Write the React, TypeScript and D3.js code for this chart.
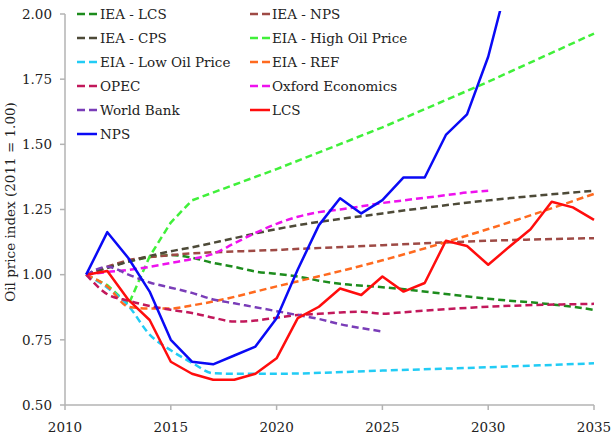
import React from "react";
import * as d3 from "d3";

type Series = { name: string; years: number[]; values: number[]; color: string; dashed: boolean; smooth: boolean };

const ieaLcsYears = [2011, 2013, 2015, 2016, 2017, 2018, 2019, 2020, 2021, 2022, 2023, 2025, 2030, 2031, 2032, 2033, 2034, 2035];
const ieaLcsValues = [1.0, 1.05, 1.075, 1.065, 1.045, 1.03, 1.012, 1.003, 0.993, 0.977, 0.965, 0.952, 0.908, 0.9, 0.894, 0.886, 0.877, 0.865];

const ieaNpsYears = [2011, 2013, 2015, 2020, 2025, 2030, 2035];
const ieaNpsValues = [1.0, 1.055, 1.075, 1.095, 1.113, 1.13, 1.14];

const ieaCpsYears = [2011, 2013, 2015, 2016, 2018, 2020, 2025, 2030, 2035];
const ieaCpsValues = [1.0, 1.05, 1.09, 1.105, 1.14, 1.175, 1.235, 1.285, 1.322];

const eiaHighYears = [2011, 2012, 2013, 2014, 2015, 2016, 2020, 2025, 2030, 2035];
const eiaHighValues = [1.0, 0.96, 0.885, 1.07, 1.2, 1.285, 1.405, 1.565, 1.74, 1.925];

const eiaLowYears = [2011, 2012, 2013, 2014, 2015, 2016, 2017, 2018, 2020, 2025, 2030, 2035];
const eiaLowValues = [1.0, 0.95, 0.88, 0.77, 0.71, 0.662, 0.622, 0.62, 0.62, 0.632, 0.645, 0.66];

const eiaRefYears = [2011, 2012, 2013, 2014, 2015, 2016, 2017, 2020, 2025, 2030, 2035];
const eiaRefValues = [1.0, 0.955, 0.877, 0.87, 0.87, 0.882, 0.897, 0.955, 1.055, 1.175, 1.31];

const opecYears = [2011, 2012, 2013, 2014, 2015, 2016, 2017, 2018, 2019, 2020, 2021, 2022, 2023, 2024, 2025, 2026, 2030, 2035];
const opecValues = [1.0, 0.925, 0.9, 0.88, 0.865, 0.853, 0.835, 0.82, 0.824, 0.835, 0.845, 0.85, 0.855, 0.858, 0.85, 0.856, 0.877, 0.888];

const oxfordYears = [2011, 2012, 2013, 2014, 2015, 2016, 2017, 2018, 2019, 2020, 2021, 2022, 2023, 2024, 2025, 2026, 2027, 2028, 2029, 2030];
const oxfordValues = [1.0, 1.01, 1.018, 1.03, 1.045, 1.06, 1.08, 1.12, 1.16, 1.195, 1.222, 1.24, 1.25, 1.262, 1.275, 1.285, 1.295, 1.305, 1.315, 1.322];

const worldBankYears = [2011, 2012, 2013, 2014, 2015, 2016, 2017, 2018, 2019, 2020, 2021, 2022, 2023, 2024, 2025];
const worldBankValues = [1.0, 1.03, 1.0, 0.97, 0.95, 0.93, 0.905, 0.89, 0.875, 0.86, 0.845, 0.83, 0.81, 0.795, 0.782];

const lcsYears = [2011, 2012, 2013, 2014, 2015, 2016, 2017, 2018, 2019, 2020, 2021, 2022, 2023, 2024, 2025, 2026, 2027, 2028, 2029, 2030, 2031, 2032, 2033, 2034, 2035];
const lcsValues = [1.0, 1.014, 0.903, 0.826, 0.666, 0.62, 0.597, 0.597, 0.62, 0.679, 0.833, 0.877, 0.947, 0.922, 0.993, 0.935, 0.968, 1.13, 1.11, 1.038, 1.107, 1.174, 1.28, 1.258, 1.21];

const npsYears = [2011, 2012, 2013, 2014, 2015, 2016, 2017, 2018, 2019, 2020, 2021, 2022, 2023, 2024, 2025, 2026, 2027, 2028, 2029, 2030, 2031];
const npsValues = [1.0, 1.163, 1.063, 0.935, 0.75, 0.666, 0.656, 0.69, 0.724, 0.833, 1.02, 1.19, 1.293, 1.235, 1.286, 1.373, 1.373, 1.536, 1.615, 1.836, 2.15];

const yTicks = [0.5, 0.75, 1.0, 1.25, 1.5, 1.75, 2.0];
const xTicks = [2010, 2015, 2020, 2025, 2030, 2035];

const series: Series[] = [
  { name: "IEA - LCS", years: ieaLcsYears, values: ieaLcsValues, color: "#1d8c1d", dashed: true, smooth: true },
  { name: "IEA - NPS", years: ieaNpsYears, values: ieaNpsValues, color: "#9e4a45", dashed: true, smooth: true },
  { name: "IEA - CPS", years: ieaCpsYears, values: ieaCpsValues, color: "#4d4a38", dashed: true, smooth: true },
  { name: "EIA - High Oil Price", years: eiaHighYears, values: eiaHighValues, color: "#40f03a", dashed: true, smooth: false },
  { name: "EIA - Low Oil Price", years: eiaLowYears, values: eiaLowValues, color: "#22ccf5", dashed: true, smooth: true },
  { name: "EIA - REF", years: eiaRefYears, values: eiaRefValues, color: "#ff6a1f", dashed: true, smooth: true },
  { name: "OPEC", years: opecYears, values: opecValues, color: "#c2185b", dashed: true, smooth: true },
  { name: "Oxford Economics", years: oxfordYears, values: oxfordValues, color: "#ee11ee", dashed: true, smooth: true },
  { name: "World Bank", years: worldBankYears, values: worldBankValues, color: "#7a3db8", dashed: true, smooth: true },
  { name: "LCS", years: lcsYears, values: lcsValues, color: "#ff0d0d", dashed: false, smooth: false },
  { name: "NPS", years: npsYears, values: npsValues, color: "#0a0af5", dashed: false, smooth: false },
];

const W = 612;
const H = 439;
const left = 65, right = 594, top = 14, bottom = 405;
const FONT = "'DejaVu Serif', serif";
const TEXT = "#222";
const AXIS = "#b3b3b3";

export default function App() {
  const x = d3.scaleLinear().domain([2010, 2035]).range([left, right]);
  const y = d3.scaleLinear().domain([0.5, 2.0]).range([bottom, top]);

  const makePath = (s: Series) => {
    const pts = s.years.map((yr, i) => [yr, s.values[i]] as [number, number]);
    const gen = d3
      .line<[number, number]>()
      .x((d) => x(d[0]))
      .y((d) => y(d[1]))
      .curve(s.smooth ? d3.curveMonotoneX : d3.curveLinear);
    return gen(pts) || "";
  };

  const col1 = ["IEA - LCS", "IEA - CPS", "EIA - Low Oil Price", "OPEC", "World Bank", "NPS"];
  const col2 = ["IEA - NPS", "EIA - High Oil Price", "EIA - REF", "Oxford Economics", "LCS"];
  const rowY = (i: number) => 14 + i * 24;
  const byName = (n: string) => series.find((s) => s.name === n)!;

  const legendItem = (n: string, i: number, lx: number, tx: number) => {
    const s = byName(n);
    return (
      <g key={n}>
        <line
          x1={lx}
          x2={lx + 20}
          y1={rowY(i)}
          y2={rowY(i)}
          stroke={s.color}
          strokeWidth={2.5}
          strokeDasharray={s.dashed ? "8,4" : undefined}
        />
        <text x={tx} y={rowY(i)} dy="0.35em" fontFamily={FONT} fontSize={13.5} fill={TEXT}>
          {n}
        </text>
      </g>
    );
  };

  return (
    <svg width={W} height={H} style={{ position: "absolute", left: 0, top: 0, background: "#fff" }}>
      <defs>
        <clipPath id="plotclip">
          <rect x={left} y={top - 3} width={right - left + 10} height={bottom - top + 3} />
        </clipPath>
      </defs>
      <line x1={left} x2={left} y1={top} y2={bottom} stroke={AXIS} strokeWidth={1.5} />
      <line x1={left} x2={right} y1={bottom} y2={bottom} stroke={AXIS} strokeWidth={1.5} />
      {yTicks.map((t) => (
        <g key={"y" + t}>
          <line x1={left - 5} x2={left} y1={y(t)} y2={y(t)} stroke={AXIS} strokeWidth={1.5} />
          <text x={52} y={y(t)} dy="0.35em" textAnchor="end" fontFamily={FONT} fontSize={13.5} fill={TEXT}>
            {d3.format(".2f")(t)}
          </text>
        </g>
      ))}
      {xTicks.map((t) => (
        <g key={"x" + t}>
          <line x1={x(t)} x2={x(t)} y1={bottom} y2={bottom + 5} stroke={AXIS} strokeWidth={1.5} />
          <text x={x(t)} y={432} textAnchor="middle" fontFamily={FONT} fontSize={13.5} fill={TEXT}>
            {t}
          </text>
        </g>
      ))}
      <text
        transform={`translate(15,202) rotate(-90)`}
        textAnchor="middle"
        fontFamily={FONT}
        fontSize={13.5}
        fill={TEXT}
      >
        Oil price index (2011 = 1.00)
      </text>
      <g clipPath="url(#plotclip)">
        {series.map((s) => (
          <path
            key={s.name}
            d={makePath(s)}
            fill="none"
            stroke={s.color}
            strokeWidth={2.5}
            strokeDasharray={s.dashed ? "7,4" : undefined}
            strokeLinejoin="round"
          />
        ))}
      </g>
      {col1.map((n, i) => legendItem(n, i, 77, 100))}
      {col2.map((n, i) => legendItem(n, i, 250, 272))}
    </svg>
  );
}
